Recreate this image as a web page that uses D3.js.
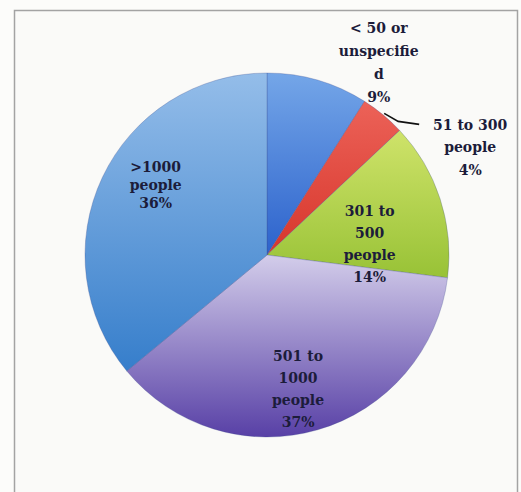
<!DOCTYPE html>
<html>
<head>
<meta charset="utf-8">
<script src="https://cdn.jsdelivr.net/npm/d3@7"></script>
<style>
  html, body { margin: 0; padding: 0; background: #fbfbf9; }
  svg { display: block; }
</style>
</head>
<body>
<svg id="chart" width="521" height="492"></svg>
<script>
// Company size breakdown (share of respondents)
const categories = ["< 50 or unspecified", "51 to 300 people", "301 to 500 people", "501 to 1000 people", ">1000 people"];
const shares = [9, 4, 14, 37, 36];
// Label lines as printed on the chart (the narrow label box wraps "unspecified")
const labelLines = [
  ["< 50 or", "unspecifie", "d", "9%"],
  ["51 to 300", "people", "4%"],
  ["301 to", "500", "people", "14%"],
  ["501 to", "1000", "people", "37%"],
  [">1000", "people", "36%"]
];
// Gradient stops per slice (top, bottom)
const sliceColors = [
  ["#74a6e8", "#2c62cc"],
  ["#ec6258", "#d7362c"],
  ["#cfe36a", "#98c236"],
  ["#d3cdea", "#5840a6"],
  ["#94bde9", "#367ecb"]
];

const svg = d3.select("#chart");
const W = 521, H = 492;
const cx = 267, cy = 255, R = 182;

// frame
svg.append("rect").attr("x", 0).attr("y", 0).attr("width", W).attr("height", H).attr("fill", "#fcfcfa");
svg.append("path")
  .attr("d", `M14.5,${H} V10.5 H517.5 V${H}`)
  .attr("fill", "#fafaf8")
  .attr("stroke", "#a3a3a3")
  .attr("stroke-width", 1.5);

const defs = svg.append("defs");
sliceColors.forEach((c, i) => {
  const g = defs.append("linearGradient")
    .attr("id", "grad" + i)
    .attr("x1", 0).attr("y1", 0).attr("x2", 0).attr("y2", 1);
  g.append("stop").attr("offset", "0%").attr("stop-color", c[0]);
  g.append("stop").attr("offset", "100%").attr("stop-color", c[1]);
});

const pie = d3.pie().value(d => d).sort(null);
const arcs = pie(shares);
const arc = d3.arc().innerRadius(0).outerRadius(R);

const g = svg.append("g").attr("transform", `translate(${cx},${cy})`);

g.selectAll("path.slice")
  .data(arcs)
  .enter().append("path")
  .attr("class", "slice")
  .attr("d", arc)
  .attr("fill", (d, i) => `url(#grad${i})`)
  .attr("stroke", "#3a4a8a")
  .attr("stroke-opacity", 0.35)
  .attr("stroke-width", 0.8);

// Label placement: radius along the slice's mid-angle plus a small nudge
const labelPlace = [
  null,
  null,
  { r: 108, dx: 0, dy: 22 },
  { r: 140, dx: -8, dy: 0 },
  { r: 123, dx: 0, dy: -18 }
];

function polar(angle, r) {
  return [Math.sin(angle) * r, -Math.cos(angle) * r];
}

const textColor = "#1c1c3a";
const font = "'DejaVu Serif', 'Liberation Serif', serif";

function drawLabel(lines, x, y, spacing) {
  const t = g.append("text")
    .attr("text-anchor", "middle")
    .attr("font-family", font)
    .attr("font-weight", "bold")
    .attr("font-size", 14)
    .attr("fill", textColor);
  const y0 = y - (lines.length - 1) * spacing / 2;
  lines.forEach((ln, k) => {
    t.append("tspan")
      .attr("x", x)
      .attr("y", y0 + k * spacing)
      .attr("dy", "0.35em")
      .text(ln);
  });
}

// inside labels
[2, 3, 4].forEach(i => {
  const a = arcs[i];
  const mid = (a.startAngle + a.endAngle) / 2;
  const [x, y] = polar(mid, labelPlace[i].r);
  drawLabel(labelLines[i], x + labelPlace[i].dx, y + labelPlace[i].dy, i === 4 ? 18 : 22);
});

// "< 50 or unspecified" sits just above the pie edge
{
  const a = arcs[0];
  const mid = (a.startAngle + a.endAngle) / 2;
  const [ex, ey] = polar(mid, R);
  drawLabel(labelLines[0], ex + 61, ey - 18, 23);
}

// "51 to 300" with a leader line
{
  const a = arcs[1];
  const mid = (a.startAngle + a.endAngle) / 2;
  const [sx, sy] = polar(mid, R * 1.01);
  const elbow = [sx + 14, sy + 8];
  const end = [sx + 35, sy + 11];
  g.append("path")
    .attr("d", d3.line()([[sx, sy], elbow, end]))
    .attr("fill", "none")
    .attr("stroke", "#111")
    .attr("stroke-width", 1.6);
  drawLabel(labelLines[1], end[0] + 51, end[1] + 23, 22.5);
}
</script>
</body>
</html>
